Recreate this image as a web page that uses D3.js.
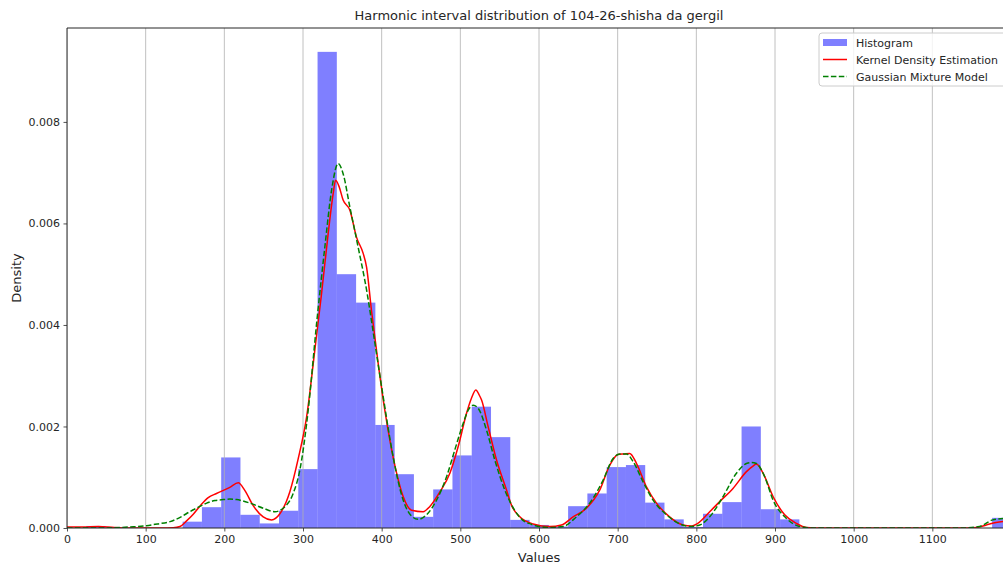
<!DOCTYPE html>
<html>
<head>
<meta charset="utf-8">
<script src="https://cdn.jsdelivr.net/npm/d3@7"></script>
<style>
  body { margin: 0; background: #fff; }
  svg { font-family: "DejaVu Sans", sans-serif; display: block; }
</style>
</head>
<body>
<svg id="chart"></svg>
<script>
// Histogram bins (left edge) and density heights
const binStart = [0, 24.5, 49, 73.5, 98, 122.5, 147, 171.5, 196, 220.5, 245, 269.5, 294, 318.5, 343, 367.5,
  392, 416.5, 441, 465.5, 490, 514.5, 539, 563.5, 588, 612.5, 637, 661.5, 686, 710.5, 735, 759.5,
  784, 808.5, 833, 857.5, 882, 906.5, 931, 955.5, 980, 1004.5, 1029, 1053.5, 1078, 1102.5, 1127, 1151.5, 1176];
const binWidth = 24.5;
const histDensity = [0, 0.00004, 0, 0, 0, 0, 0.000125, 0.00041, 0.00139, 0.00026, 0.00009, 0.00034, 0.00116, 0.00938, 0.0050, 0.00444,
  0.00203, 0.00106, 0.00022, 0.00076, 0.00143, 0.00239, 0.00179, 0.00016, 0.00006, 0.00003, 0.00043, 0.00068, 0.0012, 0.00124, 0.0005, 0.00017,
  0.00002, 0.00028, 0.00051, 0.002, 0.00037, 0.00017, 0, 0, 0, 0, 0, 0, 0, 0, 0, 0, 0.0002];

// Kernel density estimate (x, density*1000)
const kdeX = [0, 20, 40, 60, 80, 100, 120, 135, 143.6, 152, 160.5, 170, 179.5, 190, 207, 217.7, 226, 236.7, 249.4, 260, 270.6, 283.4, 294,
  304.6, 315, 323.6, 332, 338.4, 341.4, 346, 351, 359.6, 368, 376.5, 380.8, 387, 395.6, 404, 410.4, 419, 427.3, 438, 452.7, 461, 474, 486.7,
  497.2, 507.9, 514, 519.7, 524, 527, 535.3, 546, 558.7, 565, 575.6, 592.5, 613.7, 628.6, 643.3, 660.3, 677.3, 690, 700.5, 708, 715.4, 724,
  736.6, 749.3, 766, 783, 793.8, 804.3, 817, 829.7, 846.6, 863.7, 872, 876.4, 884.8, 897.5, 912.3, 927.2, 940, 960, 1000, 1100, 1140, 1156,
  1168.6, 1181, 1200];
const kdeY = [0.02, 0.02, 0.03, 0.01, 0, 0, 0, 0.005, 0.03, 0.14, 0.27, 0.45, 0.6, 0.68, 0.8, 0.89, 0.74, 0.44, 0.22, 0.16, 0.28, 0.72, 1.37,
  2.19, 3.5, 4.62, 5.8, 6.59, 6.85, 6.72, 6.46, 6.26, 5.73, 5.41, 5.14, 4.29, 3.24, 2.32, 1.73, 1.08, 0.62, 0.35, 0.32, 0.42, 0.71, 1.08,
  1.6, 2.26, 2.55, 2.72, 2.62, 2.52, 2.0, 1.34, 0.75, 0.45, 0.22, 0.08, 0.03, 0.06, 0.22, 0.39, 0.75, 1.24, 1.45, 1.46, 1.47, 1.27,
  0.81, 0.49, 0.22, 0.06, 0.04, 0.12, 0.32, 0.52, 0.78, 1.11, 1.22, 1.26, 1.08, 0.62, 0.26, 0.09, 0.01, 0, 0, 0, 0, 0.01,
  0.06, 0.11, 0.14];

// Gaussian mixture model curve (x, density*1000)
const gmmX = [0, 40, 60, 80, 101, 115, 131, 145, 156, 167, 177.5, 188, 198.6, 207, 215.6, 232.5, 249.4, 264.3, 274.8, 287.5, 296, 306.6,
  317.3, 327.8, 336.3, 344.7, 351, 359.6, 370, 380.8, 391.4, 402, 414.6, 427.3, 437, 446.4, 457, 469.8, 482.5, 493, 503.6, 510, 516.3,
  522.6, 533.3, 543.8, 556.5, 563, 575.6, 592.5, 613.7, 630.6, 647.6, 664.5, 681.4, 694.2, 702.7, 711.2, 719.6, 732.3, 745, 762, 779,
  791.6, 804.3, 817, 834, 851, 863.7, 870, 876.4, 886.9, 897.5, 914.5, 931.4, 948, 1000, 1140, 1160, 1177, 1200];
const gmmY = [0, 0, 0.005, 0.02, 0.045, 0.08, 0.125, 0.22, 0.32, 0.41, 0.49, 0.54, 0.56, 0.57, 0.56, 0.49, 0.39, 0.32, 0.39, 0.68, 1.14, 2.32,
  4.03, 5.54, 6.65, 7.18, 6.98, 6.32, 5.54, 4.69, 3.64, 2.58, 1.4, 0.55, 0.25, 0.17, 0.26, 0.55, 1.01, 1.54, 2.06, 2.32, 2.42,
  2.36, 1.93, 1.34, 0.75, 0.52, 0.21, 0.06, 0.01, 0.03, 0.22, 0.49, 0.94, 1.37, 1.46, 1.46, 1.31, 0.91, 0.55, 0.26, 0.08,
  0.03, 0.06, 0.22, 0.62, 1.08, 1.27, 1.29, 1.27, 1.01, 0.55, 0.19, 0.03, 0, 0, 0, 0.03, 0.16, 0.2];

const xTicks = [0, 100, 200, 300, 400, 500, 600, 700, 800, 900, 1000, 1100];
const yTicks = [0, 0.002, 0.004, 0.006, 0.008];

const W = 1003, H = 566;
const margin = { top: 28, right: -8, bottom: 38, left: 67 };
const width = W - margin.left - margin.right;
const height = H - margin.top - margin.bottom;

const svg = d3.select('#chart').attr('width', W).attr('height', H);

const x = d3.scaleLinear().domain([0, 1200]).range([0, width]);
const y = d3.scaleLinear().domain([0, 0.00985]).range([height, 0]);

svg.append('defs').append('clipPath').attr('id', 'plotclip')
  .append('rect').attr('width', width).attr('height', height);

const g = svg.append('g').attr('transform', `translate(${margin.left},${margin.top})`);
const plot = g.append('g').attr('clip-path', 'url(#plotclip)');

// histogram bars
plot.selectAll('.bar')
  .data(histDensity)
  .enter().append('rect')
    .attr('class', 'bar')
    .attr('x', (d, i) => x(binStart[i]))
    .attr('width', x(binWidth) - x(0))
    .attr('y', d => y(d))
    .attr('height', d => height - y(d))
    .attr('fill', 'blue')
    .attr('fill-opacity', 0.5);

// vertical grid
plot.selectAll('.grid')
  .data(xTicks)
  .enter().append('line')
    .attr('x1', d => x(d)).attr('x2', d => x(d))
    .attr('y1', 0).attr('y2', height)
    .attr('stroke', '#b0b0b0')
    .attr('stroke-width', 0.8);

const line = d3.line()
  .x(d => x(d[0]))
  .y(d => y(d[1] / 1000))
  .curve(d3.curveMonotoneX);

plot.append('path')
  .datum(kdeX.map((v, i) => [v, kdeY[i]]))
  .attr('d', line)
  .attr('fill', 'none')
  .attr('stroke', 'red')
  .attr('stroke-width', 1.5);

plot.append('path')
  .datum(gmmX.map((v, i) => [v, gmmY[i]]))
  .attr('d', line)
  .attr('fill', 'none')
  .attr('stroke', 'green')
  .attr('stroke-width', 1.5)
  .attr('stroke-dasharray', '5.5,2.4');

// axes
const xAxis = g.append('g')
  .attr('transform', `translate(0,${height})`)
  .call(d3.axisBottom(x).tickValues(xTicks).tickSize(3.5).tickPadding(3.5).tickFormat(d3.format('d')));
const yAxis = g.append('g')
  .call(d3.axisLeft(y).tickValues(yTicks).tickSize(3.5).tickPadding(3.5).tickFormat(d3.format('.3f')));

[xAxis, yAxis].forEach(a => {
  a.select('.domain').remove();
  a.selectAll('text').style('font-size', '11px').style('fill', '#262626').style('font-family', '"DejaVu Sans", sans-serif');
  a.selectAll('line').attr('stroke', '#262626').attr('stroke-width', 0.8);
});

// spines
g.append('line').attr('x1', 0).attr('x2', 0).attr('y1', 0).attr('y2', height).attr('stroke', '#262626').attr('stroke-width', 1);
g.append('line').attr('x1', 0).attr('x2', width).attr('y1', height).attr('y2', height).attr('stroke', '#262626').attr('stroke-width', 1);
g.append('line').attr('x1', 0).attr('x2', width).attr('y1', 0).attr('y2', 0).attr('stroke', '#262626').attr('stroke-width', 1);
g.append('line').attr('x1', width).attr('x2', width).attr('y1', 0).attr('y2', height).attr('stroke', '#262626').attr('stroke-width', 1);

// labels
svg.append('text')
  .attr('x', margin.left + width / 2).attr('y', 20)
  .attr('text-anchor', 'middle')
  .style('font-size', '13px').style('fill', '#262626')
  .text('Harmonic interval distribution of 104-26-shisha da gergil');

svg.append('text')
  .attr('x', margin.left + width / 2).attr('y', 562)
  .attr('text-anchor', 'middle')
  .style('font-size', '13px').style('fill', '#262626')
  .text('Values');

svg.append('text')
  .attr('transform', `translate(21,${margin.top + height / 2}) rotate(-90)`)
  .attr('text-anchor', 'middle')
  .style('font-size', '13px').style('fill', '#262626')
  .text('Density');

// legend
const leg = svg.append('g').attr('transform', 'translate(819,33)');
leg.append('rect')
  .attr('width', 188).attr('height', 53).attr('rx', 3)
  .attr('fill', 'white').attr('fill-opacity', 0.8)
  .attr('stroke', '#cccccc').attr('stroke-width', 1);
const items = [
  { label: 'Histogram', type: 'patch' },
  { label: 'Kernel Density Estimation', type: 'kde' },
  { label: 'Gaussian Mixture Model', type: 'gmm' }
];
items.forEach((it, i) => {
  const cy = 9.5 + i * 17;
  if (it.type === 'patch') {
    leg.append('rect').attr('x', 4).attr('y', cy - 3.5).attr('width', 24).attr('height', 7)
      .attr('fill', 'blue').attr('fill-opacity', 0.5);
  } else {
    leg.append('line').attr('x1', 4).attr('x2', 28).attr('y1', cy).attr('y2', cy)
      .attr('stroke', it.type === 'kde' ? 'red' : 'green').attr('stroke-width', 1.5)
      .attr('stroke-dasharray', it.type === 'gmm' ? '5.5,2.4' : null);
  }
  leg.append('text').attr('x', 37).attr('y', cy + 4)
    .style('font-size', '11px').style('fill', '#262626')
    .text(it.label);
});
</script>
</body>
</html>
